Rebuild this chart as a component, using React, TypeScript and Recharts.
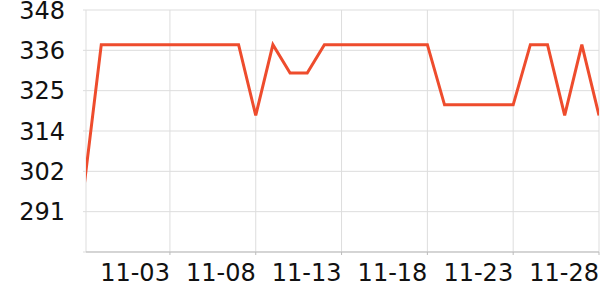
import React from "react";
import { LineChart, Line, XAxis, YAxis, CartesianGrid } from "recharts";

const dates = [
  "10-29", "10-30", "10-31", "11-01", "11-02", "11-03", "11-04", "11-05", "11-06", "11-07",
  "11-08", "11-09", "11-10", "11-11", "11-12", "11-13", "11-14", "11-15", "11-16", "11-17",
  "11-18", "11-19", "11-20", "11-21", "11-22", "11-23", "11-24", "11-25", "11-26", "11-27",
  "11-28",
];
const values = [
  298, 338, 338, 338, 338, 338, 338, 338, 338, 338,
  318, 338, 330, 330, 338, 338, 338, 338, 338, 338,
  338, 321, 321, 321, 321, 321, 338, 338, 318, 338,
  318,
];
const xTicks = [5, 10, 15, 20, 25, 30];
const yTicks = [279.4, 290.8, 302.2, 313.6, 325.0, 336.4, 347.8];

const data = values.map((v, i) => ({ idx: i, date: dates[i], value: v }));

const font = "'DejaVu Sans', sans-serif";

export default function App() {
  return (
    <div style={{ position: "absolute", left: 0, top: 0, width: 600, height: 300, background: "#fff" }}>
      <LineChart width={600} height={300} data={data} margin={{ top: 10, right: 1, bottom: 0, left: 0 }}>
        <CartesianGrid stroke="#dddddd" strokeWidth={1} />
        <XAxis
          dataKey="idx"
          type="number"
          domain={[0.11, 30]}
          allowDataOverflow
          ticks={xTicks}
          interval={0}
          tickFormatter={(v: number) => dates[v]}
          height={48}
          tickSize={3}
          tickMargin={9}
          stroke="#bbbbbb"
          tick={{ fill: "#111", fontSize: 24, fontFamily: font, textAnchor: "end" }}
        />
        <YAxis
          type="number"
          domain={[279.4, 347.8]}
          ticks={yTicks}
          interval={0}
          tickFormatter={(v: number, i: number) => (i === 0 ? "" : String(Math.round(v)))}
          width={86}
          tickSize={3}
          tickMargin={18}
          axisLine={false}
          stroke="#dddddd"
          tick={{ fill: "#111", fontSize: 24, fontFamily: font }}
        />
        <Line
          type="linear"
          dataKey="value"
          stroke="#ee4c2d"
          strokeWidth={3}
          dot={false}
          isAnimationActive={false}
        />
      </LineChart>
    </div>
  );
}
